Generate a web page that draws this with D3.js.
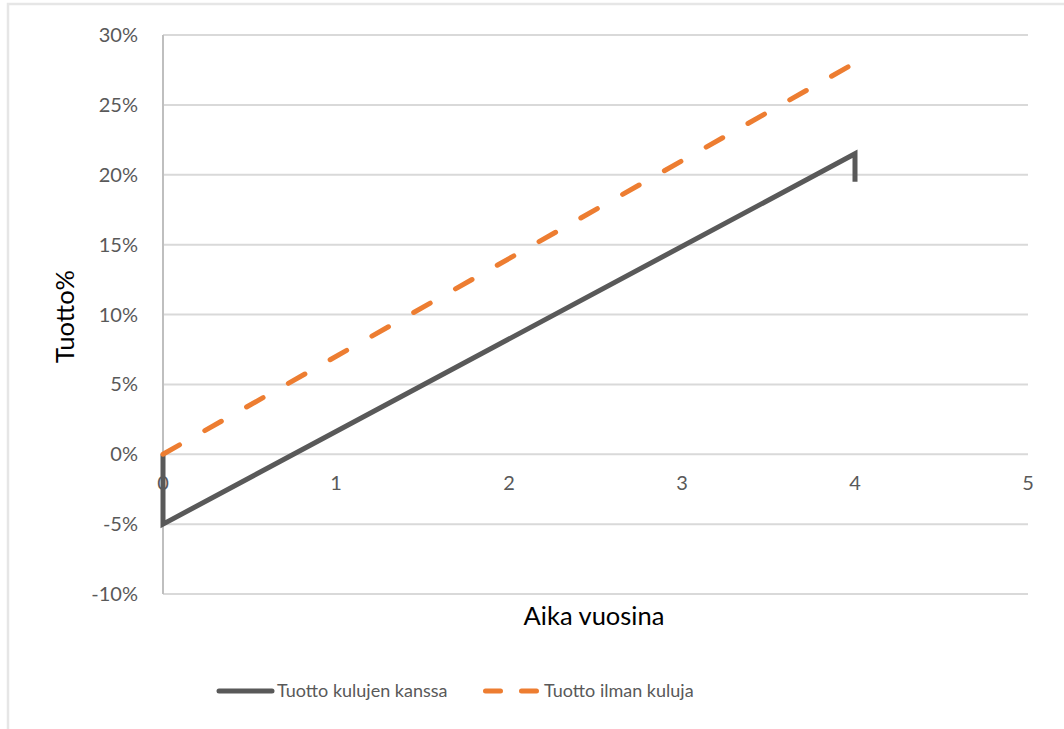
<!DOCTYPE html>
<html>
<head>
<meta charset="utf-8">
<script src="https://cdn.jsdelivr.net/npm/d3@7/dist/d3.min.js"></script>
<style>
  html, body { margin: 0; padding: 0; background: #fff; }
  svg { display: block; }
  text { font-family: Lato, "Open Sans", sans-serif; }
</style>
</head>
<body>
<svg id="chart" width="1064" height="729"></svg>
<script>
// Return over time, with and without fees
const yearsWithFees = [0, 0, 4, 4];
const returnWithFees = [0, -5, 21.5, 19.5];
const yearsNoFees = [0, 4];
const returnNoFees = [0, 28];

const xTicks = [0, 1, 2, 3, 4, 5];
const yTicks = [-10, -5, 0, 5, 10, 15, 20, 25, 30];

const seriesNames = ["Tuotto kulujen kanssa", "Tuotto ilman kuluja"];
const xTitle = "Aika vuosina";
const yTitle = "Tuotto%";

const svg = d3.select("#chart");

// chart frame
svg.append("rect")
  .attr("x", 8).attr("y", 4)
  .attr("width", 1080).attr("height", 760)
  .attr("fill", "#fff")
  .attr("stroke", "#e6e6e6").attr("stroke-width", 2.5);

const x = d3.scaleLinear().domain([0, 5]).range([163, 1028]);
const y = d3.scaleLinear().domain([-10, 30]).range([594, 35]);

// horizontal gridlines
svg.append("g")
  .selectAll("line")
  .data(yTicks)
  .join("line")
  .attr("x1", x(0)).attr("x2", x(5))
  .attr("y1", d => y(d)).attr("y2", d => y(d))
  .attr("stroke", "#d9d9d9").attr("stroke-width", 2);

// vertical axis line
svg.append("line")
  .attr("x1", x(0)).attr("x2", x(0))
  .attr("y1", y(30)).attr("y2", y(-10))
  .attr("stroke", "#bfbfbf").attr("stroke-width", 2);

// y tick labels
svg.append("g")
  .selectAll("text")
  .data(yTicks)
  .join("text")
  .attr("x", 138)
  .attr("y", d => y(d))
  .attr("dy", "0.35em")
  .attr("text-anchor", "end")
  .attr("fill", "#595959")
  .attr("font-size", 20)
  .text(d => d + "%");

// x tick labels (axis crosses at 0%)
svg.append("g")
  .selectAll("text")
  .data(xTicks)
  .join("text")
  .attr("x", d => x(d))
  .attr("y", y(0) + 36)
  .attr("text-anchor", "middle")
  .attr("fill", "#595959")
  .attr("font-size", 20)
  .text(d => d);

// axis titles
svg.append("text")
  .attr("x", 594).attr("y", 625)
  .attr("text-anchor", "middle")
  .attr("fill", "#000")
  .attr("font-size", 25.5)
  .text(xTitle);

svg.append("text")
  .attr("transform", `translate(74, ${y(10) + 2}) rotate(-90)`)
  .attr("text-anchor", "middle")
  .attr("fill", "#000")
  .attr("font-size", 25.5)
  .text(yTitle);

const line = d3.line().x(d => x(d[0])).y(d => y(d[1]));

const withFees = yearsWithFees.map((v, i) => [v, returnWithFees[i]]);
const noFees = yearsNoFees.map((v, i) => [v, returnNoFees[i]]);

svg.append("path")
  .datum(withFees)
  .attr("d", line)
  .attr("fill", "none")
  .attr("stroke", "#595959")
  .attr("stroke-width", 5)
  .attr("stroke-linejoin", "miter");

svg.append("path")
  .datum(noFees)
  .attr("d", line)
  .attr("fill", "none")
  .attr("stroke", "#ed7d31")
  .attr("stroke-width", 5)
  .attr("stroke-linecap", "round")
  .attr("stroke-dasharray", "19 29");

// legend
const legend = svg.append("g");
legend.append("line")
  .attr("x1", 219).attr("x2", 272)
  .attr("y1", 691).attr("y2", 691)
  .attr("stroke", "#595959").attr("stroke-width", 5)
  .attr("stroke-linecap", "round");
legend.append("text")
  .attr("x", 277).attr("y", 691).attr("dy", "0.35em")
  .attr("fill", "#595959").attr("font-size", 18)
  .text(seriesNames[0]);

legend.append("line")
  .attr("x1", 485.5).attr("x2", 536.5)
  .attr("y1", 691).attr("y2", 691)
  .attr("stroke", "#ed7d31").attr("stroke-width", 5)
  .attr("stroke-linecap", "round")
  .attr("stroke-dasharray", "15 21");
legend.append("text")
  .attr("x", 544).attr("y", 691).attr("dy", "0.35em")
  .attr("fill", "#595959").attr("font-size", 18)
  .text(seriesNames[1]);
</script>
</body>
</html>
